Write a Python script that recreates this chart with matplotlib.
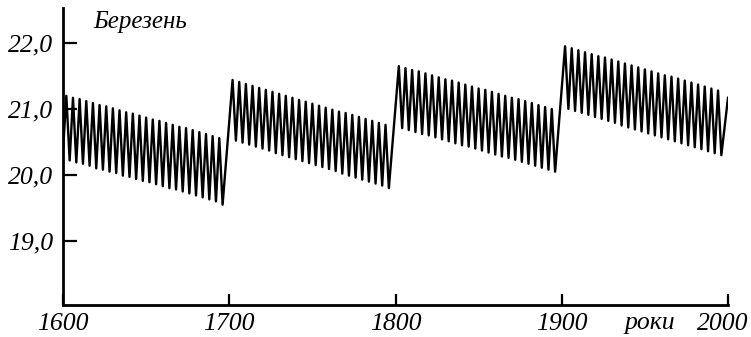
import numpy as np
import matplotlib.pyplot as plt
from matplotlib.transforms import ScaledTranslation

# March equinox date: lows and highs of each 4-year swing
c1_lows = [20.36, 20.22, 20.19, 20.17, 20.14, 20.10, 20.08, 20.05, 20.03, 19.99,
           19.97, 19.94, 19.91, 19.89, 19.86, 19.83, 19.80, 19.78, 19.75, 19.72,
           19.69, 19.66, 19.63, 19.60, 19.55]
c1_highs = [21.20, 21.17, 21.15, 21.12, 21.09, 21.06, 21.04, 21.01, 20.98, 20.95,
            20.93, 20.90, 20.87, 20.84, 20.82, 20.79, 20.76, 20.73, 20.71, 20.68,
            20.65, 20.62, 20.59, 20.56]
c2_highs = [21.44, 21.41, 21.38, 21.35, 21.32, 21.29, 21.26, 21.23, 21.20, 21.17,
            21.14, 21.11, 21.08, 21.05, 21.02, 20.99, 20.96, 20.94, 20.91, 20.88,
            20.85, 20.82, 20.79, 20.76]
c2_lows = [20.52, 20.49, 20.46, 20.43, 20.40, 20.37, 20.33, 20.30, 20.27, 20.24,
           20.21, 20.18, 20.15, 20.12, 20.09, 20.06, 20.02, 19.99, 19.96, 19.93,
           19.90, 19.87, 19.84, 19.80]
c3_highs = [21.65, 21.62, 21.59, 21.57, 21.54, 21.51, 21.48, 21.45, 21.43, 21.40,
            21.37, 21.34, 21.31, 21.29, 21.26, 21.23, 21.20, 21.17, 21.15, 21.12,
            21.09, 21.06, 21.03, 21.00]
c3_lows = [20.71, 20.68, 20.65, 20.62, 20.60, 20.57, 20.54, 20.51, 20.48, 20.45,
           20.43, 20.40, 20.37, 20.34, 20.31, 20.28, 20.26, 20.23, 20.20, 20.17,
           20.14, 20.11, 20.08, 20.05]
c4_highs = [21.95, 21.92, 21.89, 21.86, 21.83, 21.80, 21.78, 21.75, 21.72, 21.69,
            21.66, 21.63, 21.60, 21.57, 21.54, 21.51, 21.49, 21.46, 21.43, 21.40,
            21.37, 21.34, 21.31, 21.28]
c4_lows = [21.00, 20.97, 20.94, 20.91, 20.88, 20.85, 20.82, 20.79, 20.75, 20.72,
           20.69, 20.66, 20.63, 20.60, 20.57, 20.54, 20.51, 20.48, 20.45, 20.42,
           20.39, 20.36, 20.33, 20.30]
end_value = 21.17

x_ticks = [1600, 1700, 1800, 1900, 2000]
y_ticks = [19.0, 20.0, 21.0, 22.0]

# build the zigzag: lows on leap years, highs two years later
years = []
values = []
for i, low in enumerate(c1_lows):
    years.append(1600 + 4 * i)
    values.append(low)
    if i < len(c1_highs):
        years.append(1602 + 4 * i)
        values.append(c1_highs[i])
for start, highs, lows in [(1700, c2_highs, c2_lows),
                           (1800, c3_highs, c3_lows),
                           (1900, c4_highs, c4_lows)]:
    for i in range(len(highs)):
        years.append(start + 2 + 4 * i)
        values.append(highs[i])
        years.append(start + 4 + 4 * i)
        values.append(lows[i])
years.append(2000)
values.append(end_value)

serif = ['Liberation Serif', 'DejaVu Serif']

fig = plt.figure(figsize=(7.51, 3.37), dpi=100)
ax = fig.add_axes([63 / 751, 32 / 337, 665 / 751, 297 / 337])
ax.plot(years, values, color='black', linewidth=1.7)

ax.set_xlim(1600, 2000)
ax.set_ylim(18.03, 22.53)
ax.spines['top'].set_visible(False)
ax.spines['right'].set_visible(False)
for s in ['left', 'bottom']:
    ax.spines[s].set_linewidth(2)

ax.set_xticks(x_ticks)
ax.set_xticklabels([str(t) for t in x_ticks])
ax.set_yticks(y_ticks)
ax.set_yticklabels([f'{t:.1f}'.replace('.', ',') for t in y_ticks])
ax.tick_params(axis='x', direction='in', length=8, width=1.6, pad=6)
ax.tick_params(axis='y', direction='in', length=10, width=1.6, pad=7)
for lab in ax.get_xticklabels() + ax.get_yticklabels():
    lab.set_family(serif)
    lab.set_style('italic')
    lab.set_fontsize(18.5)
# keep the last year label inside the picture
last = ax.get_xticklabels()[-1]
last.set_transform(last.get_transform() + ScaledTranslation(-5 / 100, 0, fig.dpi_scale_trans))

ax.text(1618, 22.32, 'Березень', family=serif, style='italic', fontsize=18,
        ha='left', va='center')
ax.text(1953, -0.025, 'роки', transform=ax.get_xaxis_transform(), family=serif,
        style='italic', fontsize=18.5, ha='center', va='top')

fig.savefig('out.png', dpi=100)
